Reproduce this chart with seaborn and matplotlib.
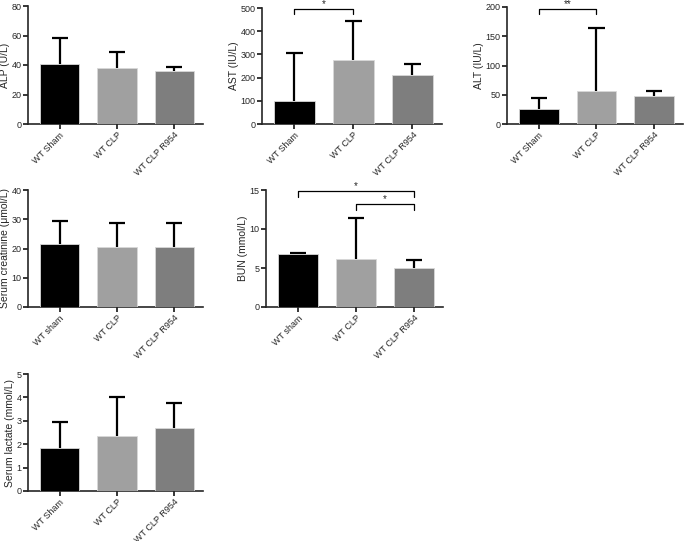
import seaborn as sns
import pandas as pd
import matplotlib.pyplot as plt

groups_a = ['WT Sham', 'WT CLP', 'WT CLP R954']
groups_b = ['WT sham', 'WT CLP', 'WT CLP R954']

alp_mean = [41, 38, 36]
alp_top = [58.5, 49, 38.5]
ast_mean = [100, 278, 212]
ast_top = [307, 443, 259]
alt_mean = [26, 57, 48]
alt_top = [45, 164, 56]
crea_mean = [21.7, 20.6, 20.5]
crea_top = [29.3, 28.7, 28.7]
bun_mean = [6.85, 6.15, 5.05]
bun_top = [6.9, 11.45, 6.0]
lac_mean = [1.85, 2.35, 2.7]
lac_top = [2.97, 4.02, 3.75]

colors = ['#000000', '#a0a0a0', '#7e7e7e']

sns.set_style('ticks')
plt.rcParams['font.family'] = ['Liberation Sans', 'DejaVu Sans']
plt.rcParams['axes.linewidth'] = 1.2

W, H = 685, 541
fig = plt.figure(figsize=(W / 100, H / 100), dpi=100)

# pixel boxes: x0, x1, ytop, ybottom
panels = [
    (28, 203, 6, 124, groups_a, alp_mean, alp_top, 'ALP (U/L)', 80, 20),
    (262, 442, 8, 124, groups_a, ast_mean, ast_top, 'AST (IU/L)', 500, 100),
    (507, 683, 7, 124, groups_a, alt_mean, alt_top, 'ALT (IU/L)', 200, 50),
    (28, 203, 190, 307, groups_b, crea_mean, crea_top, 'Serum creatinine (\u03bcmol/L)', 40, 10),
    (266, 443, 190, 307, groups_b, bun_mean, bun_top, 'BUN (mmol/L)', 15, 5),
    (28, 203, 374, 491, groups_a, lac_mean, lac_top, 'Serum lactate (mmol/L)', 5, 1),
]

axes = []
for x0, x1, yt, yb, grp, mean, top, label, ymax, step in panels:
    ax = fig.add_axes([x0 / W, 1 - yb / H, (x1 - x0) / W, (yb - yt) / H])
    df = pd.DataFrame({'group': grp, 'value': mean})
    sns.barplot(data=df, x='group', y='value', hue='group', palette=colors,
                width=0.69, errorbar=None, legend=False, ax=ax,
                edgecolor='#d8d8d8', linewidth=0.6, zorder=3)
    # upper error only, cap at the top
    ax.vlines(range(3), mean, top, color='black', lw=1.6, zorder=2)
    ax.hlines(top, [i - 0.14 for i in range(3)], [i + 0.14 for i in range(3)],
              color='black', lw=1.6, zorder=2)
    ax.set_xlim(-0.55, 2.5)
    ax.set_ylim(0, ymax)
    ax.set_yticks(range(0, ymax + 1, step))
    ax.set_xlabel('')
    ax.set_ylabel(label, fontsize=7.5, labelpad=1)
    ax.tick_params(axis='both', labelsize=6.5, length=3.5, width=1.1, pad=1.2, color='black')
    ax.set_xticks(range(3))
    ax.set_xticklabels(grp, rotation=45, ha='right', rotation_mode='anchor')
    sns.despine(ax=ax)
    axes.append(ax)


def bracket(ax, i, j, y, leg, text):
    ax.plot([i, i, j, j], [y - leg, y, y, y - leg], color='black', lw=0.9,
            clip_on=False, zorder=5)
    ax.text((i + j) / 2, y, text, ha='center', va='bottom', fontsize=7, clip_on=False)


bracket(axes[1], 0, 1, 496, 22, '*')
bracket(axes[2], 0, 1, 196.5, 8, '**')
bracket(axes[4], 0, 2, 14.85, 0.75, '*')
bracket(axes[4], 1, 2, 13.2, 0.75, '*')

fig.savefig('out.png', dpi=100)
